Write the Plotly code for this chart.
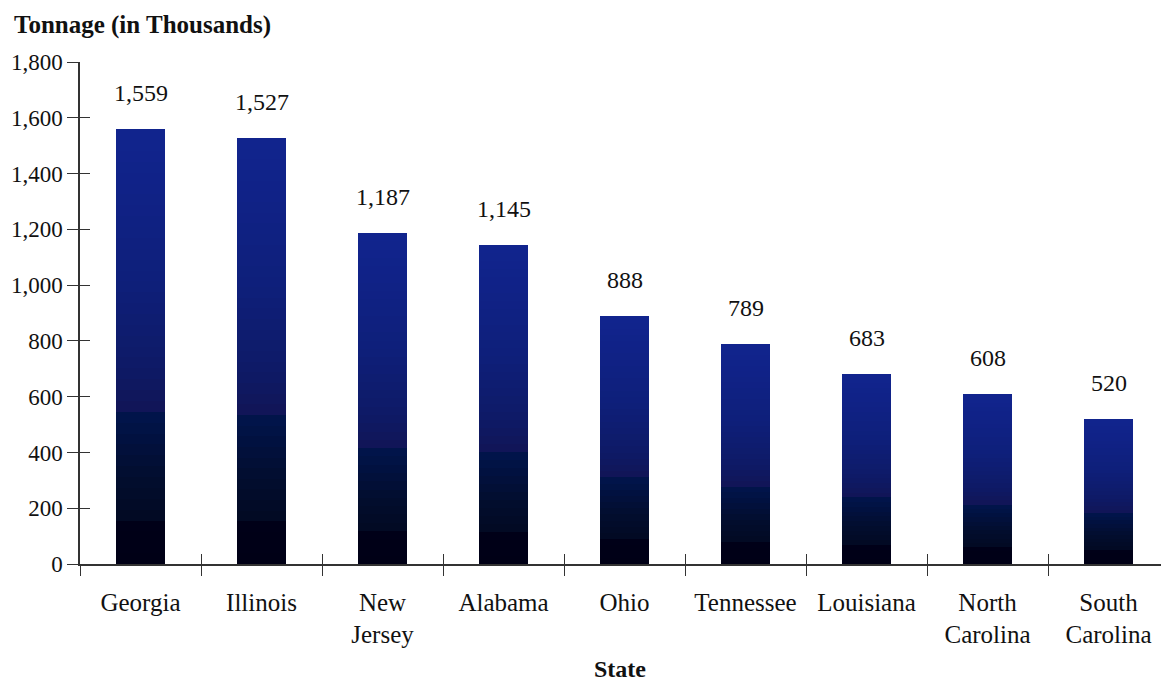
import plotly.graph_objects as go

states = ["Georgia", "Illinois", "New<br>Jersey", "Alabama", "Ohio", "Tennessee",
          "Louisiana", "North<br>Carolina", "South<br>Carolina"]
tonnage = [1559, 1527, 1187, 1145, 888, 789, 683, 608, 520]
y_ticks = [0, 200, 400, 600, 800, 1000, 1200, 1400, 1600, 1800]

# shading stops (fraction of bar height from the bottom, rgb); the
# reference bars fade from near-black at the base to royal blue at the top
stops = [(0.0, (0, 0, 22)), (0.095, (0, 0, 24)),
         (0.0951, (2, 10, 34)), (0.2, (2, 13, 46)), (0.339, (1, 20, 74)),
         (0.34, (18, 20, 84)), (0.45, (14, 26, 102)), (0.65, (14, 31, 122)),
         (0.85, (16, 34, 134)), (1.0, (17, 36, 142))]


def shade(f):
    for (f0, c0), (f1, c1) in zip(stops, stops[1:]):
        if f <= f1:
            t = (f - f0) / (f1 - f0) if f1 > f0 else 0
            return "rgb({},{},{})".format(*[round(a + (b - a) * t) for a, b in zip(c0, c1)])
    return "rgb({},{},{})".format(*stops[-1][1])


FONT = "Liberation Serif"
N = 40
fig = go.Figure()
for k in range(N):
    fig.add_trace(go.Bar(
        x=states, y=[v / N for v in tonnage],
        marker=dict(color=shade((k + 0.5) / N), line=dict(width=0)),
        showlegend=False, hoverinfo="skip",
    ))

# second pair of axes on top so the ticks cross the axis lines
fig.add_trace(go.Scatter(x=states, y=tonnage, xaxis="x2", yaxis="y2",
                         mode="markers", marker=dict(opacity=0),
                         showlegend=False, hoverinfo="skip"))

labels = [dict(x=s, y=v, text=f"{v:,}", showarrow=False, yanchor="middle",
               yshift=36, font=dict(size=24))
          for s, v in zip(states, tonnage)]

fig.update_layout(
    width=1161, height=673,
    margin=dict(l=72, r=0, t=54, b=117),
    paper_bgcolor="white", plot_bgcolor="white",
    barmode="stack", bargap=0.6,
    font=dict(family=FONT, size=24, color="#111"),
    xaxis=dict(
        type="category", tickson="boundaries", ticks="outside", ticklen=10,
        tickcolor="#333", tickwidth=1.3, showline=True, linecolor="#333",
        linewidth=1.5, showgrid=False, ticklabelstandoff=15, automargin=False,
        tickfont=dict(size=25),
    ),
    yaxis=dict(
        range=[0, 1800], tickvals=y_ticks, tickformat=",d", ticks="outside",
        ticklen=11, tickcolor="#333", tickwidth=1.3, showline=True,
        linecolor="#333", linewidth=1.5, showgrid=False, zeroline=False,
        ticklabelstandoff=0, automargin=False, tickfont=dict(size=23),
    ),
    xaxis2=dict(
        type="category", overlaying="x", tickson="boundaries", ticks="inside",
        ticklen=10, tickcolor="#333", tickwidth=1.3, showticklabels=False,
        showgrid=False, showline=False, matches="x", automargin=False,
    ),
    yaxis2=dict(
        overlaying="y", range=[0, 1800], tickvals=y_ticks, ticks="inside",
        ticklen=10, tickcolor="#333", tickwidth=1.3, showticklabels=False,
        showgrid=False, showline=False, zeroline=False, automargin=False,
    ),
    annotations=labels + [
        dict(text="<b>Tonnage (in Thousands)</b>", xref="paper", yref="paper",
             x=0, xshift=-68, y=1.0, yshift=37, xanchor="left", yanchor="middle",
             showarrow=False, font=dict(size=25)),
        dict(text="<b>State</b>", xref="paper", yref="paper", x=0.496, y=0,
             xanchor="center", yanchor="middle", yshift=-105, showarrow=False,
             font=dict(size=24)),
    ],
)

fig.write_html("out.html")
